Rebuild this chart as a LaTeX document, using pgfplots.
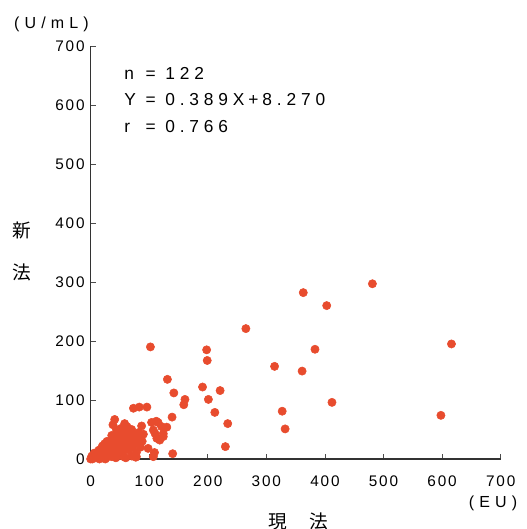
\documentclass[border=0pt]{standalone}
\usepackage{fontspec}
\setmainfont{Liberation Sans}[LetterSpace=12]
\newfontfamily\wide{Liberation Sans}[LetterSpace=32]
\newfontfamily\stat{Liberation Sans}[LetterSpace=28]
\newfontfamily\cjk{Noto Sans CJK JP}
\usepackage{pgfplots}
\pgfplotsset{compat=1.18}
\definecolor{dot}{RGB}{232,76,46}

\begin{document}
\begin{tikzpicture}
\useasboundingbox (-68pt,-52.5pt) rectangle (327.2pt,344.25pt);
\begin{axis}[
    scale only axis,
    width=307.5pt, height=309.75pt,
    xmin=0, xmax=700, ymin=0, ymax=700,
    xtick distance=100, ytick distance=100,
    axis x line*=bottom, axis y line*=left,
    axis line style={-, black!80, line width=0.8pt},
    tick align=inside,
    major tick length=4pt,
    tick style={black!70, line width=0.6pt},
    /pgf/number format/assume math mode=true,
    ticklabel style={font=\fontsize{11.5}{12}\selectfont},
    xticklabel style={yshift=-9pt},
    yticklabel style={xshift=-1pt},
    clip=false,
]
\addplot[only marks, mark=*, mark size=3.1pt, color=dot] coordinates {
    (481,297) (363,282) (403,260) (265,221) (198,185) (199,167)
    (383,186) (314,157) (361,149) (191,122) (221,116) (161,101)
    (159,92) (201,101) (412,96) (212,79) (327,81) (234,60)
    (332,51) (230,21) (616,195) (598,74) (102,190) (131,135)
    (142,112) (139,71)
    (73,86) (83,88) (96,88) (41,67) (38,58) (58,60) (47,46) (61,46)
    (87,56) (104,62) (115,62) (107,49) (121,55) (110,43) (124,43)
    (113,35) (118,32) (64,38) (70,32) (76,32) (39,32) (50,29) (24,26)
    (30,21) (44,21) (59,18) (19,15) (36,12) (78,11) (98,18) (109,11)
    (53,12) (2,5) (10,4) (21,4) (36,4) (56,4) (78,4)
    (112,64) (130,54) (124,38) (77,3) (107,4) (140,9)
    (5,2) (8,6) (12,3) (14,8) (16,12) (18,5) (20,10) (22,16) (25,8)
    (26,20) (28,14) (30,4) (32,10) (33,25) (34,18) (38,8) (40,22)
    (42,15) (44,28) (45,5) (46,36) (48,20) (50,40) (52,24) (54,8)
    (55,32) (57,48) (60,25) (62,36) (65,15) (66,44) (68,28) (70,50)
    (72,20) (74,40) (76,26) (80,35) (82,45) (85,20) (88,30) (90,42)
    (62,55) (52,52) (44,50) (36,40) (28,30) (20,22) (14,15) (6,10)
    (3,0) (0,0) (15,0) (25,0) (43,2) (60,2) (70,5)
};
\node[anchor=west, font=\stat\fontsize{13}{15}\selectfont, inner sep=0pt]
    at (axis cs:57,608) {\renewcommand{\arraystretch}{1.33}%
    \begin{tabular}{@{}l@{\ =\ }l@{}}
    n & 122\\
    Y & 0.389X\:+\:8.270\\
    r & 0.766
    \end{tabular}};
\node[font=\wide\fontsize{12}{14}\selectfont] at (axis cs:-67,737) {(U/mL)};
\node[font=\wide\fontsize{12}{14}\selectfont] at (axis cs:687,-75) {(EU)};
\node[font=\cjk\fontsize{14}{16}\selectfont] at (axis cs:-117,388) {新};
\node[font=\cjk\fontsize{14}{16}\selectfont] at (axis cs:-117,317) {法};
\node[font=\cjk\fontsize{14}{16}\selectfont] at (axis cs:319,-106) {現};
\node[font=\cjk\fontsize{14}{16}\selectfont] at (axis cs:390,-106) {法};
\end{axis}
\end{tikzpicture}
\end{document}
